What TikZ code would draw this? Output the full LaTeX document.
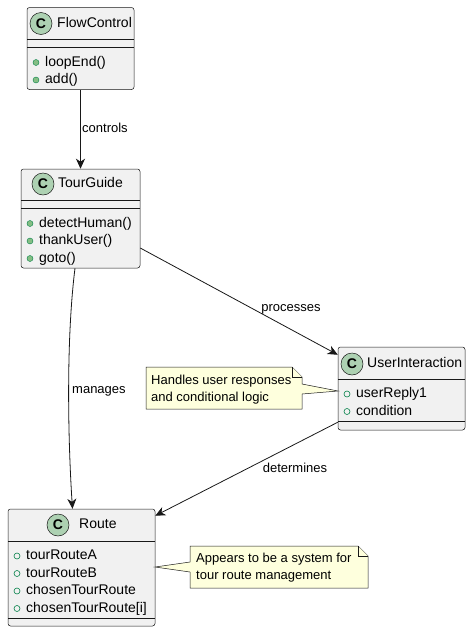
\documentclass[tikz,border=0pt]{standalone}
\usepackage{fontspec}
\setmainfont{Liberation Sans}
\usetikzlibrary{arrows.meta}
\definecolor{boxfill}{HTML}{F1F1F1}
\definecolor{boxline}{HTML}{181818}
\definecolor{iconfill}{HTML}{ADD1B2}
\definecolor{notefill}{HTML}{FEFFDD}
\definecolor{methfill}{HTML}{84BE84}
\definecolor{memline}{HTML}{038048}
\tikzset{
  classbox/.style={draw=boxline, fill=boxfill, line width=0.5pt, rounded corners=2.5pt, inner sep=0pt},
  divider/.style={draw=boxline, line width=0.5pt},
  icon/.style={circle, draw=boxline, fill=iconfill, line width=0.5pt, minimum size=22pt, inner sep=0pt, font=\fontsize{14}{16}\selectfont\bfseries},
  title/.style={anchor=west, inner sep=0pt, font=\fontsize{14}{16}\selectfont, text height=10pt, text depth=3pt},
  member/.style={anchor=west, inner sep=0pt, font=\fontsize{14}{16}\selectfont, text height=10pt, text depth=3pt},
  meth/.style={circle, fill=methfill, draw=memline, line width=0.4pt, minimum size=6pt, inner sep=0pt},
  fld/.style={circle, draw=memline, line width=0.6pt, minimum size=6pt, inner sep=0pt},
  lbl/.style={inner sep=0pt, font=\fontsize{13}{15}\selectfont, text height=9.5pt, text depth=3pt},
  arr/.style={draw=boxline, line width=0.8pt, -{Stealth[length=10pt, width=9pt, inset=3pt]}},
  note/.style={draw=boxline, fill=notefill, line width=0.5pt},
  notetext/.style={inner sep=0pt, align=left, anchor=west, font=\fontsize{13}{17}\selectfont}
}
\begin{document}
\begin{tikzpicture}[x=1pt, y=-1pt]
\useasboundingbox (0,0) rectangle (471,632);

% ---------- FlowControl ----------
\node[classbox, minimum width=107pt, minimum height=82pt] (fc) at (80.5,48.5) {};
\draw[divider] (27,39) -- (134,39);
\draw[divider] (27,47) -- (134,47);
\node[icon] (fcicon) at (41,23.5) {C};
\node[title] (fcname) at (57,23.5) {FlowControl};
\node[meth] (fcb1) at (36,62.5) {};
\node[member] (fcm1) at (45,62.5) {loopEnd()};
\node[meth] (fcb2) at (36,80) {};
\node[member] (fcm2) at (45,80) {add()};

% ---------- TourGuide ----------
\node[classbox, minimum width=119pt, minimum height=99pt] (tg) at (80.5,218.5) {};
\draw[divider] (21,200) -- (140,200);
\draw[divider] (21,208) -- (140,208);
\node[icon] (tgicon) at (43,184) {C};
\node[title] (tgname) at (58,184) {TourGuide};
\node[meth] (tgb1) at (30,223.5) {};
\node[member] (tgm1) at (39,223.5) {detectHuman()};
\node[meth] (tgb2) at (30,241) {};
\node[member] (tgm2) at (39,241) {thankUser()};
\node[meth] (tgb3) at (30,258.5) {};
\node[member] (tgm3) at (39,258.5) {goto()};

% ---------- UserInteraction ----------
\node[classbox, minimum width=127pt, minimum height=83pt] (ui) at (401.5,388.5) {};
\draw[divider] (338,379) -- (465,379);
\draw[divider] (338,421) -- (465,421);
\node[icon] (uiicon) at (352,364) {C};
\node[title] (uiname) at (367,364) {UserInteraction};
\node[fld] (uib1) at (347,394) {};
\node[member] (uif1) at (356,394) {userReply1};
\node[fld] (uib2) at (347,411.5) {};
\node[member] (uif2) at (356,411.5) {condition};

% ---------- Route ----------
\node[classbox, minimum width=147pt, minimum height=117pt] (rt) at (81.5,567.5) {};
\draw[divider] (8,541) -- (155,541);
\draw[divider] (8,618) -- (155,618);
\node[icon] (rticon) at (58,525) {C};
\node[title] (rtname) at (79,525) {Route};
\node[fld] (rtb1) at (17,556) {};
\node[member] (rtf1) at (26,556) {tourRouteA};
\node[fld] (rtb2) at (17,573.5) {};
\node[member] (rtf2) at (26,573.5) {tourRouteB};
\node[fld] (rtb3) at (17,591) {};
\node[member] (rtf3) at (26,591) {chosenTourRoute};
\node[fld] (rtb4) at (17,608.5) {};
\node[member] (rtf4) at (26,608.5) {chosenTourRoute[i]};

% ---------- connectors ----------
\draw[arr] (fc.south) -- (tg.north);
\node[lbl, anchor=west] (lcontrols) at (82,129) {controls};

\draw[arr] ([yshift=-29.5pt]tg.east) -- ([yshift=-8pt]ui.north west);
\node[lbl] (lprocesses) at (291,308) {processes};

\draw[arr] ([xshift=-5.5pt]tg.south) .. controls (66,340) and (68,440) .. ([xshift=-9pt]rt.north);
\node[lbl, anchor=west] (lmanages) at (72,390) {manages};

\draw[arr] ([yshift=8pt]ui.south west) -- ([yshift=-7pt]rt.north east);
\node[lbl] (ldetermines) at (295,469) {determines};

% ---------- notes ----------
\draw[note] (146,367) -- (292,367) -- (302,377) -- (302,384) -- (338,391) -- (302,394) -- (302,409) -- (146,409) -- cycle;
\draw[note] (292,367) -- (292,377) -- (302,377);
\node[notetext] (n1) at (151,389.5) {Handles user responses\\and conditional logic};

\draw[note] (190,546) -- (358,546) -- (368,556) -- (368,588) -- (190,588) -- (190,572) -- (155,567) -- (190,562) -- cycle;
\draw[note] (358,546) -- (358,556) -- (368,556);
\node[notetext] (n2) at (196,567.5) {Appears to be a system for\\tour route management};
\end{tikzpicture}
\end{document}
